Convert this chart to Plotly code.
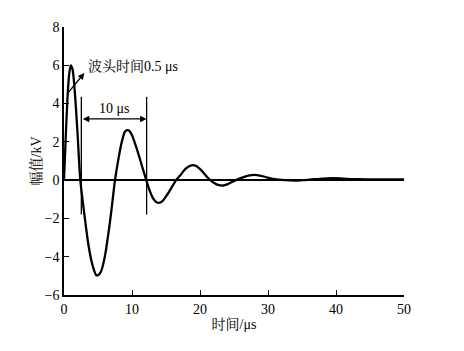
import plotly.graph_objects as go

# Waveform points (time in µs, amplitude in kV)
t = [0, 0.25, 0.5, 0.75, 1.0, 1.25, 1.5, 1.75, 2.0, 2.4,
     3.0, 3.6, 4.2, 4.8, 5.4, 6.0, 6.6, 7.0, 7.5,
     8.0, 8.5, 9.0, 9.5, 10.0, 10.5, 11.0, 11.5, 12.1,
     12.6, 13.1, 13.6, 14.1, 14.6, 15.2, 15.8, 16.5,
     17.2, 17.9, 18.6, 19.2, 19.9, 20.6, 21.5,
     22.2, 22.8, 23.4, 24.0, 24.7, 25.3,
     26.2, 27.1, 28.0, 29.0, 30.0, 31.0, 32.5,
     34.0, 36.0, 38.0, 39.5, 41.0, 43.0, 46.0, 50.0]
v = [0, 2.2, 4.2, 5.5, 6.0, 5.8, 5.0, 3.8, 2.4, 0,
     -1.8, -3.4, -4.45, -4.98, -4.8, -4.0, -2.6, -1.5, 0,
     1.1, 2.0, 2.55, 2.6, 2.35, 1.85, 1.3, 0.7, 0,
     -0.55, -0.95, -1.15, -1.18, -1.05, -0.75, -0.4, 0,
     0.3, 0.6, 0.76, 0.77, 0.62, 0.35, 0,
     -0.17, -0.26, -0.28, -0.22, -0.1, 0,
     0.13, 0.23, 0.27, 0.22, 0.13, 0.05, 0,
     -0.02, 0.02, 0.08, 0.1, 0.08, 0.05, 0.04, 0.04]

x_ticks = [0, 10, 20, 30, 40, 50]
y_ticks = [-6, -4, -2, 0, 2, 4, 6, 8]

period_start, period_end = 2.55, 12.15
marker_top, marker_bottom = 4.35, -1.8
arrow_y = 3.2

serif = "Liberation Serif, Noto Serif CJK SC, Noto Sans CJK SC, serif"

fig = go.Figure()
fig.add_trace(go.Scatter(x=t, y=v, mode="lines",
                         line=dict(color="black", width=2.3, shape="spline", smoothing=0.8),
                         showlegend=False, hoverinfo="skip"))

# vertical marker lines
for xv in (period_start, period_end):
    fig.add_shape(type="line", x0=xv, x1=xv, y0=marker_bottom, y1=marker_top,
                  line=dict(color="black", width=1.3))

# double-headed arrow
fig.add_annotation(x=period_end, y=arrow_y, ax=period_start, ay=arrow_y, xref="x", yref="y",
                   axref="x", ayref="y", showarrow=True, arrowhead=2, arrowsize=1, arrowwidth=1.3,
                   arrowcolor="black", arrowside="end+start", text="")
fig.add_annotation(x=(period_start + period_end) / 2, y=3.75, text="10 μs", showarrow=False,
                   font=dict(family=serif, size=14, color="black"))

# rise-time annotation arrow
fig.add_annotation(x=3.0, y=5.6, ax=0.35, ay=4.45, xref="x", yref="y", axref="x", ayref="y",
                   showarrow=True, arrowhead=2, arrowsize=1, arrowwidth=1.3, arrowcolor="black", text="")
fig.add_annotation(x=3.2, y=5.95, text="波头时间0.5 μs", showarrow=False, xanchor="left",
                   font=dict(family=serif, size=14, color="black"))

fig.update_layout(
    width=464, height=351,
    margin=dict(l=64, r=60, t=27, b=56),
    paper_bgcolor="white", plot_bgcolor="white",
    font=dict(family=serif, size=14, color="black"),
    xaxis=dict(range=[0, 50], tickvals=x_ticks, ticks="inside", ticklen=5, tickwidth=1.3,
               tickcolor="black",
               showline=True, linecolor="black", linewidth=1.5, showgrid=False, zeroline=False,
               title=dict(text="时间/μs", font=dict(size=14, color="black"), standoff=4),
               tickfont=dict(size=14, color="black")),
    yaxis=dict(range=[-6, 8], tickvals=y_ticks, ticks="inside", ticklen=5, tickwidth=1.3,
               tickcolor="black",
               showline=True, linecolor="black", linewidth=1.5, showgrid=False,
               zeroline=True, zerolinecolor="black", zerolinewidth=1.5,
               title=dict(text="幅值/kV", font=dict(size=14, color="black"), standoff=0),
               tickfont=dict(size=14, color="black")),
)

fig.write_html("out.html")
